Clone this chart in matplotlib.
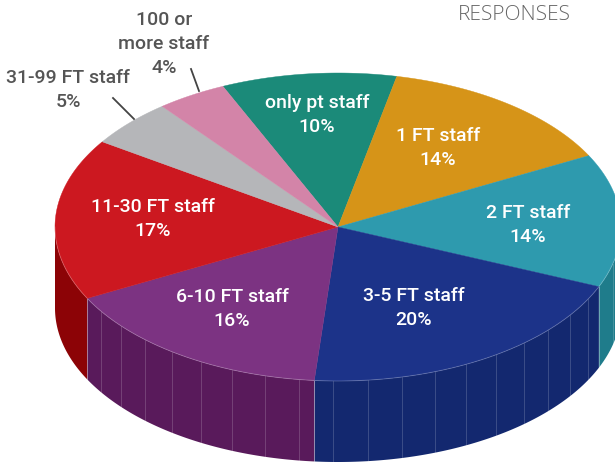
import numpy as np
import matplotlib
matplotlib.use("Agg")
import matplotlib.pyplot as plt
from matplotlib.patches import Polygon

# ---- data ----
categories = ["only pt staff", "1 FT staff", "2 FT staff", "3-5 FT staff",
              "6-10 FT staff", "11-30 FT staff", "31-99 FT staff", "100 or\nmore staff"]
values = [10, 14, 14, 20, 16, 17, 5, 4]
pct_labels = ["10%", "14%", "14%", "20%", "16%", "17%", "5%", "4%"]
title = "RESPONSES"

# ---- style ----
top_colors = ["#1b8a79", "#d69418", "#2e9aae", "#1c3389",
              "#7c3382", "#cc1820", "#b5b6b9", "#d384a8"]
side_colors = ["#14685b", "#a36f10", "#1f7c8b", "#13286f",
               "#591a5b", "#8c0306", "#88898c", "#a0627e"]
facet_lines = [False, False, True, True, True, False, False, False]
# label centers (pixel coords): first line y; inside labels white
label_pos = [(317, 103), (438, 136), (528, 213), (414, 296),
             (232, 297), (153, 207), (68, 78), (164, 20)]
inside = [True, True, True, True, True, True, False, False]
leaders = {6: ((113, 99), (134, 120)), 7: ((191, 70), (199, 92))}

cx, cy, rx, ry, depth = 338, 228, 283, 154, 81
start = 114.0

plt.rcParams['font.family'] = ['Roboto', 'DejaVu Sans']

fig = plt.figure(figsize=(6.15, 4.64), dpi=100)
ax = fig.add_axes([0, 0, 1, 1])
ax.set_xlim(0, 615)
ax.set_ylim(464, 0)
ax.axis('off')

vals = np.array(values, dtype=float)
cum = np.concatenate([[0], np.cumsum(vals)]) / vals.sum()
bounds = start - 360.0 * cum  # clockwise


def arc(t0, t1, n=200):
    t = np.radians(np.linspace(t0, t1, n))
    return cx + rx * np.cos(t), cy - ry * np.sin(t)


# sides (front half: angles between -180 and 0)
for i in range(len(vals)):
    a0, a1 = bounds[i], bounds[i + 1]
    lo, hi = max(a1, -180.0), min(a0, 0.0)
    if hi <= lo:
        continue
    xs, ys = arc(lo, hi, 200)
    pts = np.column_stack([np.concatenate([xs, xs[::-1]]),
                           np.concatenate([ys, ys[::-1] + depth])])
    ax.add_patch(Polygon(pts, closed=True, facecolor=side_colors[i],
                         edgecolor='none', zorder=1))
    if facet_lines[i]:
        for t in np.arange(np.ceil(lo / 7) * 7, hi, 7):
            if t - lo < 2 or hi - t < 2:
                continue
            x = cx + rx * np.cos(np.radians(t))
            y = cy - ry * np.sin(np.radians(t))
            ax.plot([x, x], [y, y + depth], color='white', alpha=0.2, lw=0.6, zorder=2)
    if lo > -180:
        x = cx + rx * np.cos(np.radians(lo)); y = cy - ry * np.sin(np.radians(lo))
        ax.plot([x, x], [y, y + depth], color='white', alpha=0.35, lw=0.7, zorder=2)

# top faces
for i in range(len(vals)):
    xs, ys = arc(bounds[i], bounds[i + 1])
    pts = np.column_stack([np.concatenate([[cx], xs]), np.concatenate([[cy], ys])])
    ax.add_patch(Polygon(pts, closed=True, facecolor=top_colors[i],
                         edgecolor=top_colors[i], lw=0.3, zorder=3))

# rim highlight on front
xs, ys = arc(-180, 0, 300)
ax.plot(xs, ys, color='white', alpha=0.2, lw=0.7, zorder=4)

# labels
for i in range(len(vals)):
    x, y = label_pos[i]
    lines = categories[i].split("\n") + [pct_labels[i]]
    col = 'white' if inside[i] else '#555555'
    for j, s in enumerate(lines):
        ax.text(x, y + 24 * j, s, ha='center', va='center', color=col,
                fontsize=14, fontweight='medium', zorder=5)
    if i in leaders:
        (x0, y0), (x1, y1) = leaders[i]
        ax.plot([x0, x1], [y0, y1], color='#444444', lw=1.3, zorder=5)

ax.text(514, 15, title, ha='center', va='center', color='#666666',
        fontsize=15, fontweight='light', family=['Open Sans', 'DejaVu Sans'], zorder=5)

fig.savefig("out.png", dpi=100)
